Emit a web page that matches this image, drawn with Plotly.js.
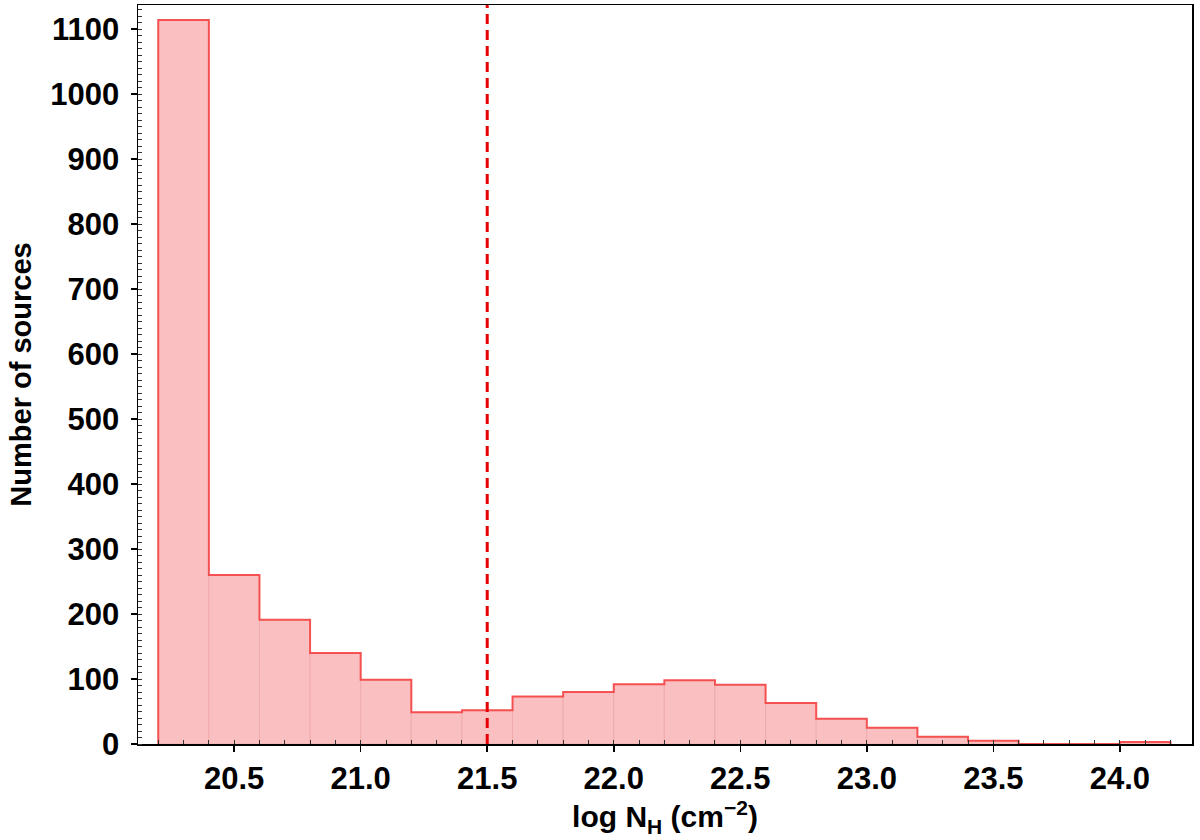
<!DOCTYPE html>
<html>
<head>
<meta charset="utf-8">
<script src="https://cdn.plot.ly/plotly-3.0.1.min.js"></script>
<style>
  html, body { margin: 0; padding: 0; background: #fff; }
  #chart { width: 1200px; height: 840px; }
</style>
</head>
<body>
<div id="chart"></div>
<script>
// histogram of log NH, bins of 0.2 dex
const binEdges = [20.2, 20.4, 20.6, 20.8, 21.0, 21.2, 21.4, 21.6, 21.8, 22.0, 22.2,
                  22.4, 22.6, 22.8, 23.0, 23.2, 23.4, 23.6, 23.8, 24.0, 24.2];
const counts = [1114, 260, 191, 140, 99, 49, 52, 73, 80, 92,
                98, 91, 63, 39, 25, 11, 5, 0, 0, 3];
const cutValue = 21.5;
const yTicks = [0, 100, 200, 300, 400, 500, 600, 700, 800, 900, 1000, 1100];
const xTicks = [20.5, 21.0, 21.5, 22.0, 22.5, 23.0, 23.5, 24.0];

const centers = counts.map((c, i) => (binEdges[i] + binEdges[i + 1]) / 2);
const widths = counts.map((c, i) => binEdges[i + 1] - binEdges[i]);

// step outline: start at 0 on the left edge, end back at 0
const stepX = [binEdges[0]].concat(binEdges);
const stepY = [0].concat(counts, [0]);

const bars = {
  type: 'bar',
  x: centers,
  y: counts,
  width: widths,
  marker: { color: 'rgb(250,191,192)', line: { color: 'rgba(235,160,160,0.6)', width: 1 } },
  hoverinfo: 'x+y'
};

const outline = {
  type: 'scatter',
  mode: 'lines',
  x: stepX,
  y: stepY,
  line: { shape: 'hv', color: 'rgba(245,60,60,0.85)', width: 2 },
  hoverinfo: 'skip'
};

const tickFont = { family: 'Liberation Sans, Arial, sans-serif', size: 31, color: '#000', weight: 'bold' };

const layout = {
  width: 1200,
  height: 840,
  showlegend: false,
  bargap: 0,
  paper_bgcolor: '#fff',
  plot_bgcolor: '#fff',
  margin: { l: 138, r: 8, t: 5, b: 96 },
  xaxis: {
    range: [20.12, 24.285],
    tickvals: xTicks,
    ticktext: xTicks.map(v => v.toFixed(1)),
    ticks: 'outside',
    ticklen: 6,
    tickwidth: 1.5,
    tickcolor: '#000',
    minor: { dtick: 0.1, tick0: 20.0, ticks: 'inside', ticklen: 4, tickwidth: 1, tickcolor: '#333' },
    showgrid: false,
    zeroline: false,
    showline: true,
    mirror: true,
    linecolor: '#000',
    linewidth: 1.5,
    tickfont: tickFont,
    title: {
      text: 'log N<sub>H</sub> (cm<sup>−2</sup>)',
      font: { family: 'Liberation Sans, Arial, sans-serif', size: 30, color: '#000', weight: 'bold' },
      standoff: 9
    }
  },
  yaxis: {
    range: [0, 1137],
    tickvals: yTicks,
    ticks: 'outside',
    ticklen: 6,
    tickwidth: 1.5,
    tickcolor: '#000',
    ticklabelstandoff: 5,
    minor: { dtick: 10, ticks: 'inside', ticklen: 4, tickwidth: 1, tickcolor: '#333' },
    showgrid: false,
    zeroline: false,
    showline: true,
    mirror: true,
    linecolor: '#000',
    linewidth: 1.5,
    tickfont: tickFont,
    title: {
      text: 'Number of sources',
      font: { family: 'Liberation Sans, Arial, sans-serif', size: 29, color: '#000', weight: 'bold' },
      standoff: 10
    }
  },
  shapes: [{
    type: 'line',
    xref: 'x', yref: 'paper',
    x0: cutValue, x1: cutValue, y0: 0, y1: 1,
    line: { color: 'rgb(230,0,0)', width: 3, dash: '10px,6px' }
  }]
};

Plotly.newPlot('chart', [bars, outline], layout, { displayModeBar: false, staticPlot: true });
</script>
</body>
</html>
